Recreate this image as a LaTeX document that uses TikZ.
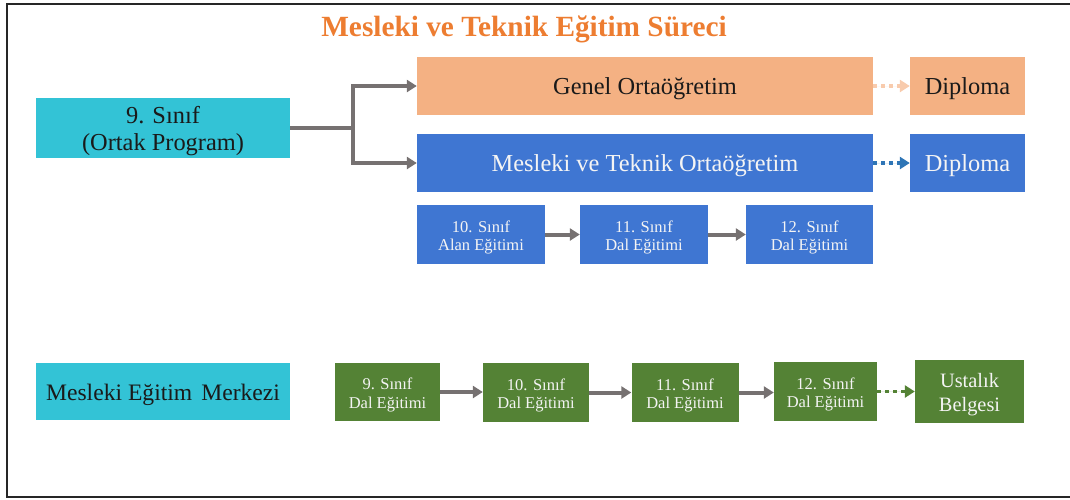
\documentclass[tikz,border=0pt]{standalone}
\usepackage{fontspec}
\setmainfont{Liberation Serif}
\usetikzlibrary{arrows.meta}
\definecolor{cyanbox}{HTML}{33C3D6}
\definecolor{orangebox}{HTML}{F4B183}
\definecolor{bluebox}{HTML}{3F76D2}
\definecolor{greenbox}{HTML}{548235}
\definecolor{titleorange}{HTML}{ED7D31}
\definecolor{arrowgray}{HTML}{767171}
\definecolor{lightorange}{HTML}{F8CBAD}
\definecolor{dotblue}{HTML}{2E75B6}
\definecolor{darktext}{HTML}{1A1A1A}
\definecolor{lighttext}{HTML}{F4F4F4}
\newcommand{\lowtxt}[1]{\raisebox{-3.5pt}[\height][\depth]{\begin{tabular}{@{}c@{}}#1\end{tabular}}}
\begin{document}
\begin{tikzpicture}[x=1pt,y=-1pt,
  box/.style={rectangle, inner sep=0pt, align=center},
  bigtext/.style={font=\fontsize{24.4}{27}\selectfont},
  smalltext/.style={font=\fontsize{16.5}{18.5}\selectfont},
  cyanstyle/.style={box, fill=cyanbox, text=darktext, bigtext},
  orangestyle/.style={box, fill=orangebox, text=darktext, bigtext},
  bluestyle/.style={box, fill=bluebox, text=lighttext, bigtext},
  bluesmall/.style={box, fill=bluebox, text=lighttext, smalltext},
  greensmall/.style={box, fill=greenbox, text=lighttext, smalltext},
  grayarrow/.style={draw=arrowgray, line width=4pt, -{Triangle[length=10pt,width=12pt]}},
  grayline/.style={draw=arrowgray, line width=4pt},
  dotarrow/.style={line width=3.5pt, dash pattern=on 4pt off 4pt, -{Triangle[length=10pt,width=12pt]}}
]
\useasboundingbox (0,0) rectangle (1070,499);
% frame
\draw[line width=2.5pt, draw=black!85] (1072,4) -- (7,4) -- (7,497) -- (1072,497);

% title
\node[anchor=base, text=titleorange, font=\fontsize{29.3}{32}\selectfont\bfseries] (title) at (524,36) {Mesleki ve Teknik Eğitim Süreci};

% top section
\node[cyanstyle, minimum width=254pt, minimum height=60pt] (p9) at (163,128) {\lowtxt{9. Sınıf\\(Ortak Program)}};
\node[orangestyle, minimum width=456pt, minimum height=58pt] (genel) at (645,86) {\lowtxt{Genel Ortaöğretim}};
\node[orangestyle, minimum width=115pt, minimum height=58pt] (dip1) at (967.5,86) {\lowtxt{Diploma}};
\node[bluestyle, minimum width=456pt, minimum height=58pt] (mto) at (645,163) {\lowtxt{Mesleki ve Teknik Ortaöğretim}};
\node[bluestyle, minimum width=115pt, minimum height=58pt] (dip2) at (967.5,163) {\lowtxt{Diploma}};

\node[bluesmall, minimum width=128pt, minimum height=59pt] (b10) at (481,234.5) {\lowtxt{10. Sınıf\\Alan Eğitimi}};
\node[bluesmall, minimum width=128pt, minimum height=59pt] (b11) at (644,234.5) {\lowtxt{11. Sınıf\\Dal Eğitimi}};
\node[bluesmall, minimum width=127pt, minimum height=59pt] (b12) at (809.5,234.5) {\lowtxt{12. Sınıf\\Dal Eğitimi}};

% bottom section
\node[cyanstyle, font=\fontsize{23.6}{27}\selectfont, minimum width=254pt, minimum height=57pt] (mem) at (163,391.5) {\lowtxt{Mesleki Eğitim\hspace{9pt}Merkezi}};
\node[greensmall, minimum width=105pt, minimum height=58pt] (g9) at (387.5,392) {\lowtxt{9. Sınıf\\Dal Eğitimi}};
\node[greensmall, minimum width=106pt, minimum height=59pt] (g10) at (536,392.5) {\lowtxt{10. Sınıf\\Dal Eğitimi}};
\node[greensmall, minimum width=107pt, minimum height=59pt] (g11) at (685,392.5) {\lowtxt{11. Sınıf\\Dal Eğitimi}};
\node[greensmall, minimum width=103pt, minimum height=59pt] (g12) at (825.5,391.5) {\lowtxt{12. Sınıf\\Dal Eğitimi}};
\node[box, fill=greenbox, text=lighttext, font=\fontsize{20.4}{24}\selectfont, minimum width=109pt, minimum height=63pt] (ust) at (969.5,391.5) {\lowtxt{Ustalık\\Belgesi}};

% connectors
\coordinate (j) at (353,128);
\draw[grayline] (p9.east) -- (j);
\draw[grayarrow] (j) |- (genel.west);
\draw[grayarrow] (j) |- (mto.west);
\draw[dotarrow, draw=lightorange, fill=lightorange] (genel.east) -- (dip1.west);
\draw[dotarrow, draw=dotblue, fill=dotblue] (mto.east) -- (dip2.west);
\draw[grayarrow] (b10.east) -- (b11.west);
\draw[grayarrow] (b11.east) -- (b12.west);
\draw[grayarrow] (g9.east) -- (g10.west |- g9.east);
\draw[grayarrow] (g10.east) -- (g11.west);
\draw[grayarrow] (g11.east) -- (g12.west |- g11.east);
\draw[dotarrow, draw=greenbox, fill=greenbox] (g12.east) -- (ust.west |- g12.east);
\end{tikzpicture}
\end{document}
